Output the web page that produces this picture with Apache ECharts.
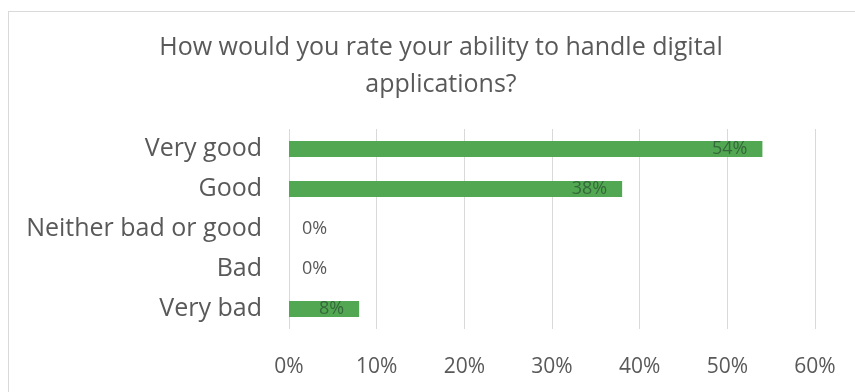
<!DOCTYPE html>
<html lang="en">
<head>
    <meta charset="utf-8">
    <title>Digital applications rating</title>
    <style>
        html, body { margin: 0; padding: 0; background: #fff; }
        #frame {
            position: absolute; left: 8px; top: 11px; width: 860px; height: 400px;
            border: 1px solid #d9d9d9; box-sizing: border-box;
        }
        #main { position: absolute; left: 0; top: 0; width: 855px; height: 392px; }
    </style>
</head>
<body>
<div id="frame"></div>
<div id="main"></div>
<script src="https://cdn.jsdelivr.net/npm/echarts@6/dist/echarts.min.js"></script>
<script type="text/javascript">
    // data
    var categories = ['Very good', 'Good', 'Neither bad or good', 'Bad', 'Very bad'];
    var values = [54, 38, 0, 0, 8];
    var xTicks = [0, 10, 20, 30, 40, 50, 60];

    var fontFam = '"Open Sans", "Liberation Sans", sans-serif';
    var grey = '#595959';

    var myChart = echarts.init(document.getElementById('main'));

    // zero bars get their label outside, like the original
    var seriesData = values.map(function (v) {
        if (v === 0) {
            return { value: v, label: { position: 'right', distance: 13, color: grey } };
        }
        return { value: v };
    });

    var option = {
        animation: false,
        title: {
            text: 'How would you rate your ability to handle digital\napplications?',
            left: 436,
            textAlign: 'center',
            top: 24,
            textStyle: {
                fontFamily: fontFam,
                fontSize: 25,
                fontWeight: 'normal',
                color: grey,
                lineHeight: 37
            }
        },
        grid: { left: 289, right: 40, top: 129, bottom: 63 },
        xAxis: {
            type: 'value',
            min: xTicks[0],
            max: xTicks[xTicks.length - 1],
            interval: 10,
            axisLine: { show: false },
            axisTick: { show: false },
            splitLine: { lineStyle: { color: '#d9d9d9', width: 1 } },
            axisLabel: {
                margin: 28,
                fontFamily: fontFam,
                fontSize: 21,
                color: grey,
                formatter: '{value}%'
            }
        },
        yAxis: {
            type: 'category',
            inverse: true,
            data: categories,
            axisLine: { show: false },
            axisTick: { show: false },
            axisLabel: {
                margin: 27,
                fontFamily: fontFam,
                fontSize: 25,
                color: grey
            }
        },
        series: [{
            type: 'bar',
            barWidth: 16,
            data: seriesData,
            itemStyle: { color: '#52a852' },
            label: {
                show: true,
                position: 'insideRight',
                distance: 15,
                fontFamily: fontFam,
                fontSize: 18,
                color: '#35683a',
                formatter: '{c}%'
            }
        }]
    };

    myChart.setOption(option);
</script>
</body>
</html>
